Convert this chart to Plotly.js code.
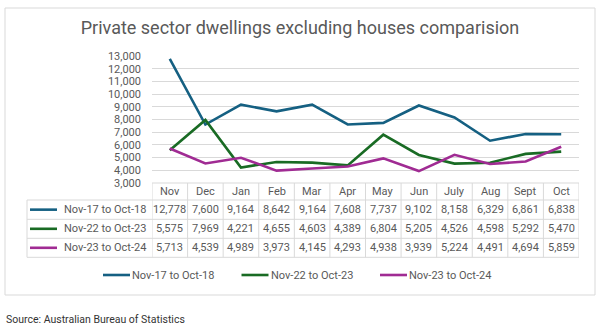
<!DOCTYPE html>
<html>
<head>
<meta charset="utf-8">
<script src="https://cdn.plot.ly/plotly-3.0.1.min.js"></script>
<style>html,body{margin:0;padding:0;background:#fff;}#chart{width:600px;height:327px;}</style>
</head>
<body>
<div id="chart"></div>
<script>
// ---- data ----
const months = ['Nov','Dec','Jan','Feb','Mar','Apr','May','Jun','July','Aug','Sept','Oct'];
const seriesNames = ['Nov-17 to Oct-18','Nov-22 to Oct-23','Nov-23 to Oct-24'];
const s2018 = [12778,7600,9164,8642,9164,7608,7737,9102,8158,6329,6861,6838];
const s2023 = [5575,7969,4221,4655,4603,4389,6804,5205,4526,4598,5292,5470];
const s2024 = [5713,4539,4989,3973,4145,4293,4938,3939,5224,4491,4694,5859];
const seriesValues = [s2018, s2023, s2024];
const colors = ['#156082','#196B24','#A02B93'];

// ---- geometry (pixels) ----
const W = 600, H = 327;
const L = 152, R = 579, T = 56, B = 183;
const px = x => (x - L) / (R - L);
const py = y => (B - y) / (B - T);
const grey = '#595959', border = '#D9D9D9';
const FONT = 'Roboto, "Open Sans", sans-serif';

const traces = seriesValues.map((v, k) => ({
  type: 'scatter', mode: 'lines', x: months, y: v, name: seriesNames[k],
  line: {color: colors[k], width: 2.6}, hoverinfo: 'x+y+name', showlegend: false
}));

const shapes = [];
const annotations = [];
const line = (xref, x0, x1, y0, y1) => shapes.push({type:'line', xref:xref, yref:'paper', x0:x0, x1:x1, y0:y0, y1:y1, line:{color:border, width:1}, layer:'above'});

// outer chart box
shapes.push({type:'rect', xref:'paper', yref:'paper', x0:px(5), x1:px(595), y0:py(295), y1:py(8), line:{color:border, width:1}, layer:'below'});

// table rows boundaries
const headerTop = 183, rowLines = [200, 219.3, 238.3, 257.3];
line('paper', px(L), px(R), py(headerTop), py(headerTop));
rowLines.forEach(y => line('paper', px(27), px(R), py(y), py(y)));
line('paper', px(27), px(27), py(rowLines[0]), py(rowLines[3]));
for (let i = 0; i <= months.length; i++) {
  line('x', i - 0.5, i - 0.5, py(headerTop), py(rowLines[3]));
}
months.forEach((m, i) => annotations.push({xref:'x', yref:'paper', x:i, y:py((headerTop + rowLines[0]) / 2), text:m, showarrow:false, xanchor:'center', yanchor:'middle', font:{family:FONT, size:11, color:grey}}));
seriesValues.forEach((vals, k) => {
  const yc = py((rowLines[k] + rowLines[k + 1]) / 2);
  shapes.push({type:'line', xref:'paper', yref:'paper', x0:px(30), x1:px(57), y0:yc, y1:yc, line:{color:colors[k], width:2.6}, layer:'above'});
  annotations.push({xref:'paper', yref:'paper', x:px(148), y:yc, text:seriesNames[k], showarrow:false, xanchor:'right', yanchor:'middle', font:{family:FONT, size:11, color:grey}});
  vals.forEach((v, i) => annotations.push({xref:'x', yref:'paper', x:i, y:yc, text:v.toLocaleString('en-US'), showarrow:false, xanchor:'center', yanchor:'middle', font:{family:FONT, size:11, color:grey}}));
});

// bottom legend
seriesNames.forEach((n, k) => {
  const x0 = 103 + k * 138.5, yc = py(275);
  shapes.push({type:'line', xref:'paper', yref:'paper', x0:px(x0), x1:px(x0 + 27), y0:yc, y1:yc, line:{color:colors[k], width:2.6}, layer:'above'});
  annotations.push({xref:'paper', yref:'paper', x:px(x0 + 27), y:yc, text:n, showarrow:false, xanchor:'left', yanchor:'middle', font:{family:FONT, size:11, color:grey}});
});

// source
annotations.push({xref:'paper', yref:'paper', x:px(4), y:py(319), text:'Source: Australian Bureau of Statistics', showarrow:false, xanchor:'left', yanchor:'middle', font:{family:'"Liberation Sans Narrow", Roboto, sans-serif', size:10.5, color:'#333333'}});

const layout = {
  width: W, height: H,
  margin: {l: L, r: W - R, t: T, b: H - B, pad: 0},
  paper_bgcolor: '#ffffff', plot_bgcolor: '#ffffff',
  title: {text:'Private sector dwellings excluding houses comparision', x:0.5, xref:'container', xanchor:'center', y:1 - 28 / H, yref:'container', yanchor:'middle', font:{family:FONT, size:18, color:grey}},
  xaxis: {type:'category', range:[-0.5, 11.5], showticklabels:false, showgrid:false, zeroline:false, showline:false, ticks:'', fixedrange:true},
  yaxis: {range:[3000, 13000], dtick:1000, tick0:3000, tickformat:',d', showgrid:true, gridcolor:border, gridwidth:1, zeroline:false, showline:false, ticks:'', ticklabelstandoff:10, tickfont:{family:FONT, size:11, color:grey}, fixedrange:true},
  showlegend: false,
  shapes: shapes,
  annotations: annotations
};

Plotly.newPlot('chart', traces, layout, {displayModeBar:false, staticPlot:true});
</script>
</body>
</html>
